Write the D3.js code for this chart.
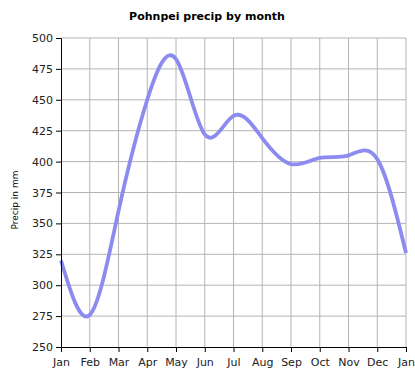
<!DOCTYPE html>
<html>
<head>
<meta charset="utf-8">
<script src="https://cdn.jsdelivr.net/npm/d3@7"></script>
<style>
  body { margin: 0; background: #fff; }
  svg { display: block; font-family: "DejaVu Sans", Verdana, sans-serif; }
</style>
</head>
<body>
<script>
const WIDTH = 415;
const HEIGHT = 378;

const months = ["Jan", "Feb", "Mar", "Apr", "May", "Jun", "Jul", "Aug", "Sep", "Oct", "Nov", "Dec", "Jan"];
const precip = [320, 276, 360, 450, 483, 422, 437, 419, 398, 403, 405, 402, 326];
const yTicks = [250, 275, 300, 325, 350, 375, 400, 425, 450, 475, 500];

const margin = {top: 38, right: 9, bottom: 31, left: 61};

const svg = d3.select("body")
              .append("svg")
              .attr("width", WIDTH)
              .attr("height", HEIGHT);

const x = d3.scaleLinear()
            .domain([0, months.length - 1])
            .range([margin.left, WIDTH - margin.right]);

const y = d3.scaleLinear()
            .domain([250, 500])
            .range([HEIGHT - margin.bottom, margin.top]);

// grid
svg.append("g")
   .selectAll("line")
   .data(d3.range(1, months.length))
   .join("line")
   .attr("x1", d => x(d)).attr("x2", d => x(d))
   .attr("y1", y(250)).attr("y2", y(500))
   .attr("stroke", "#b4b4b4");

svg.append("g")
   .selectAll("line")
   .data(yTicks.slice(1))
   .join("line")
   .attr("x1", x(0)).attr("x2", x(12))
   .attr("y1", d => y(d)).attr("y2", d => y(d))
   .attr("stroke", "#b4b4b4");

// line
const line = d3.line()
               .x((d, i) => x(i))
               .y(d => y(d))
               .curve(d3.curveNatural);

svg.append("path")
   .datum(precip)
   .attr("fill", "none")
   .attr("stroke", "#8c8cf0")
   .attr("stroke-width", 3.8)
   .attr("stroke-linejoin", "round")
   .attr("d", line);

// axes
const xAxis = d3.axisBottom(x)
                .tickValues(d3.range(months.length))
                .tickFormat(i => months[i])
                .tickSizeOuter(0)
                .tickSize(5)
                .tickPadding(6);

const yAxis = d3.axisLeft(y)
                .tickValues(yTicks)
                .tickSizeOuter(0)
                .tickSize(5)
                .tickPadding(3);

const gx = svg.append("g")
              .attr("transform", "translate(0," + y(250) + ")")
              .call(xAxis);

const gy = svg.append("g")
              .attr("transform", "translate(" + x(0) + ",0)")
              .call(yAxis);

[gx, gy].forEach(g => {
  g.select(".domain").attr("stroke", "#000");
  g.selectAll(".tick line").attr("stroke", "#000");
  g.selectAll("text")
   .attr("fill", "#222")
   .style("font-size", "11px")
   .style("font-family", "\"DejaVu Sans\", Verdana, sans-serif");
});

// title and label
svg.append("text")
   .attr("x", 207)
   .attr("y", 20)
   .attr("text-anchor", "middle")
   .style("font-size", "11px")
   .style("font-weight", "bold")
   .text("Pohnpei precip by month");

svg.append("text")
   .attr("transform", "translate(18,200) rotate(-90)")
   .attr("text-anchor", "middle")
   .style("font-size", "9px")
   .text("Precip in mm");
</script>
</body>
</html>
